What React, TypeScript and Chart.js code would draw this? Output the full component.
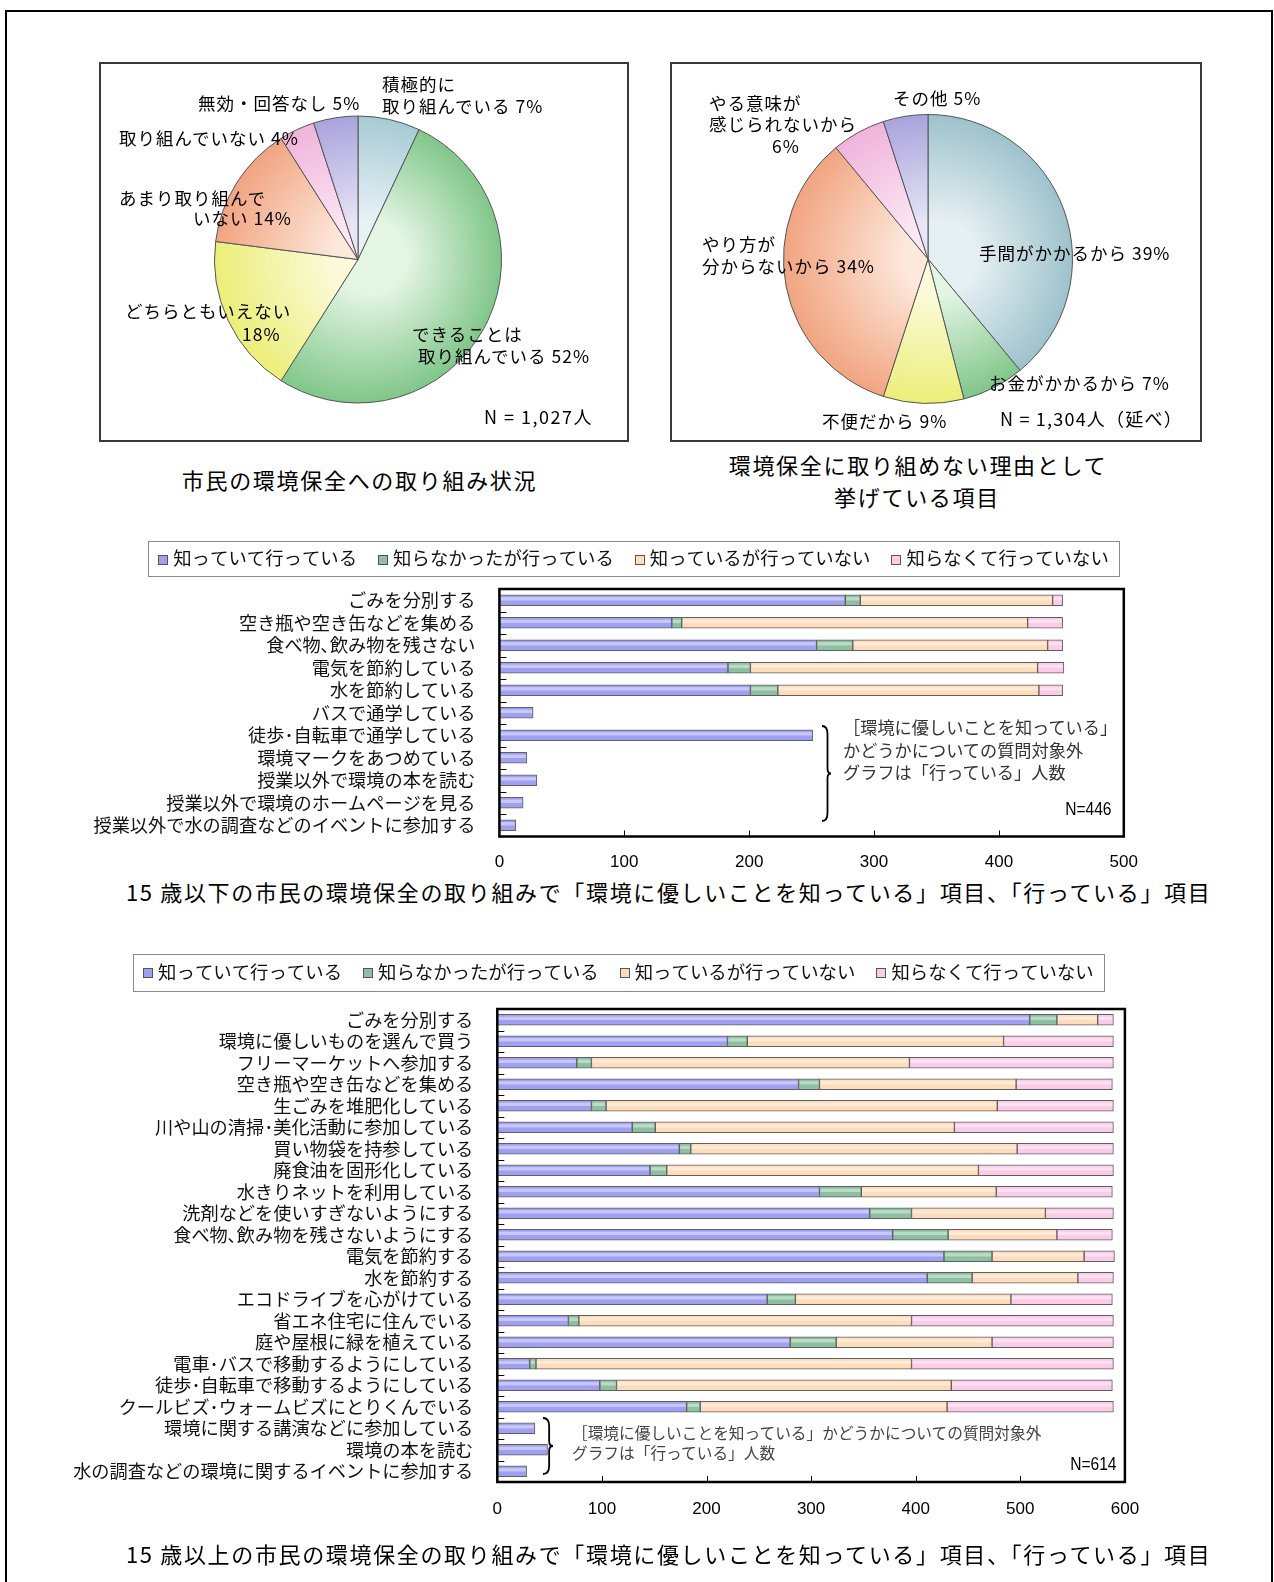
import React, { useEffect, useRef } from 'react';
import { Chart, registerables } from 'chart.js';

Chart.register(...registerables);

const JP = '"Noto Sans CJK JP", "Noto Sans JP", "Noto Sans", sans-serif';
const NUM = '"Liberation Sans", Arial, sans-serif';

// ---------------- data ----------------
const pie1Labels = [['積極的に', '取り組んでいる'], ['できることは', '取り組んでいる'], ['どちらともいえない'], ['あまり取り組んで', 'いない'], ['取り組んでいない'], ['無効・回答なし']];
const pie1Values = [7, 52, 18, 14, 4, 5];
const pie1N = 'N = 1,027人';
const pie1Caption = ['市民の環境保全への取り組み状況'];

const pie2Labels = [['手間がかかるから'], ['お金がかかるから'], ['不便だから'], ['やり方が', '分からないから'], ['やる意味が', '感じられないから'], ['その他']];
const pie2Values = [39, 7, 9, 34, 6, 5];
const pie2N = 'N = 1,304人（延べ）';
const pie2Caption = ['環境保全に取り組めない理由として', '挙げている項目'];

const seriesNames = ['知っていて行っている', '知らなかったが行っている', '知っているが行っていない', '知らなくて行っていない'];

const youthItems = ['ごみを分別する', '空き瓶や空き缶などを集める', '食べ物､飲み物を残さない', '電気を節約している', '水を節約している', 'バスで通学している', '徒歩･自転車で通学している', '環境マークをあつめている', '授業以外で環境の本を読む', '授業以外で環境のホームページを見る', '授業以外で水の調査などのイベントに参加する'];
const youthKnowDo = [277, 138, 254, 183, 201, 27, 251, 22, 30, 19, 13];
const youthUnknownDo = [12, 8, 29, 18, 22, null, null, null, null, null, null];
const youthKnowNot = [154, 277, 156, 230, 209, null, null, null, null, null, null];
const youthUnknownNot = [8, 28, 12, 21, 19, null, null, null, null, null, null];
const youthTicks = [0, 100, 200, 300, 400, 500];
const youthN = 'N=446';
const youthNote = ['［環境に優しいことを知っている」', 'かどうかについての質問対象外', 'グラフは「行っている」人数'];
const youthCaption = '15 歳以下の市民の環境保全の取り組みで「環境に優しいことを知っている」項目、「行っている」項目';

const adultItems = ['ごみを分別する', '環境に優しいものを選んで買う', 'フリーマーケットへ参加する', '空き瓶や空き缶などを集める', '生ごみを堆肥化している', '川や山の清掃･美化活動に参加している', '買い物袋を持参している', '廃食油を固形化している', '水きりネットを利用している', '洗剤などを使いすぎないようにする', '食べ物､飲み物を残さないようにする', '電気を節約する', '水を節約する', 'エコドライブを心がけている', '省エネ住宅に住んでいる', '庭や屋根に緑を植えている', '電車･バスで移動するようにしている', '徒歩･自転車で移動するようにしている', 'クールビズ･ウォームビズにとりくんでいる', '環境に関する講演などに参加している', '環境の本を読む', '水の調査などの環境に関するイベントに参加する'];
const adultKnowDo = [509, 220, 76, 288, 90, 129, 174, 146, 308, 356, 378, 427, 411, 258, 68, 280, 31, 98, 181, 36, 48, 28];
const adultUnknownDo = [26, 19, 14, 20, 14, 22, 11, 16, 40, 40, 53, 46, 43, 27, 10, 44, 6, 16, 13, null, null, null];
const adultKnowNot = [39, 245, 304, 188, 374, 286, 312, 298, 129, 128, 104, 88, 101, 206, 318, 149, 359, 320, 236, null, null, null];
const adultUnknownNot = [15, 105, 195, 92, 111, 152, 92, 129, 111, 65, 53, 29, 34, 97, 193, 116, 193, 154, 159, null, null, null];
const adultTicks = [0, 100, 200, 300, 400, 500, 600];
const adultN = 'N=614';
const adultNote = ['［環境に優しいことを知っている」かどうかについての質問対象外', 'グラフは「行っている」人数'];
const adultCaption = '15 歳以上の市民の環境保全の取り組みで「環境に優しいことを知っている」項目、「行っている」項目';

// ---------------- styles ----------------
const barFill = ['#a0a0f2', '#8cc0a0', '#fddcbb', '#fbcbe7'];
const pie1Rim = ['#a6cbd5', '#80c689', '#ecee78', '#f1a480', '#f0b3dc', '#a9a3dc'];
const pie1Inner = ['#e8f2f5', '#e4f5e4', '#fbfbdc', '#fde8dc', '#fbe8f4', '#e8e6f6'];
const pie2Rim = ['#9dc2cc', '#80c689', '#ecee78', '#f1a480', '#f0b3dc', '#a9a3dc'];
const pie2Inner = ['#e6eff2', '#e4f5e4', '#fbfbdc', '#fde8dc', '#fbe8f4', '#e8e6f6'];

const pie1LabelPos = [
  [[382, 83], [382, 105]],
  [[412, 333], [418, 355]],
  [[125, 310], [242, 333]],
  [[119, 197], [193, 217]],
  [[119, 137]],
  [[198, 102]],
];
const pie2LabelPos = [
  [[979, 252]],
  [[989, 382]],
  [[822, 420]],
  [[702, 243], [702, 265]],
  [[709, 102], [709, 123], [772, 145]],
  [[893, 97]],
];

type TxtProps = { x: number; y: number; children: any; size?: number; ls?: number; align?: string; color?: string; family?: string; sx?: number };
function Txt({ x, y, children, size = 17.5, ls = 1, align = 'left', color = '#111', family = JP, sx = 1 }: TxtProps) {
  const lh = Math.round(size * 1.3);
  const style: any = {
    position: 'absolute', top: y - lh / 2, lineHeight: lh + 'px', height: lh, fontSize: size,
    letterSpacing: ls, whiteSpace: 'nowrap', color, fontFamily: family,
  };
  if (align === 'left') { style.left = x; style.transformOrigin = 'left center'; }
  else if (align === 'right') { style.right = 1274 - x; style.transformOrigin = 'right center'; }
  else { style.left = x - 500; style.width = 1000; style.textAlign = 'center'; }
  if (sx !== 1) style.transform = `scaleX(${sx})`;
  return <div style={style}>{children}</div>;
}

function Brace({ x, y, w, h }: { x: number; y: number; w: number; h: number }) {
  const m = h / 2;
  const v = w * 0.65;
  const d = `M 1 1 Q ${v} 1 ${v} 9 L ${v} ${m - 5} Q ${v} ${m} ${w} ${m} Q ${v} ${m} ${v} ${m + 5} L ${v} ${h - 9} Q ${v} ${h - 1} 1 ${h - 1}`;
  return (
    <svg style={{ position: 'absolute', left: x, top: y }} width={w + 2} height={h}>
      <path d={d} fill="none" stroke="#000" strokeWidth={1.8} />
    </svg>
  );
}

function pieLines(labels: string[][], values: number[], pos: number[][][]) {
  const out: { t: string; x: number; y: number }[] = [];
  labels.forEach((lab, i) => {
    const lines = lab.slice();
    const pct = values[i] + '%';
    if (pos[i].length > lines.length) lines.push(pct);
    else lines[lines.length - 1] = lines[lines.length - 1] + ' ' + pct;
    lines.forEach((t, j) => out.push({ t, x: pos[i][j][0], y: pos[i][j][1] }));
  });
  return out;
}

type PieProps = { labels: string[][]; values: number[]; rims: string[]; inners: string[]; left: number; top: number; width: number; height: number; padding: any };
function PieCanvas(p: PieProps) {
  const ref = useRef<HTMLCanvasElement>(null);
  useEffect(() => {
    const chart = new Chart(ref.current as HTMLCanvasElement, {
      type: 'pie',
      data: {
        labels: p.labels.map((l) => l.join('')),
        datasets: [{
          data: p.values,
          backgroundColor: (c: any) => {
            const a = c.chart.chartArea;
            const i = c.dataIndex;
            if (!a) return p.rims[i];
            const cx = (a.left + a.right) / 2;
            const cy = (a.top + a.bottom) / 2;
            const r = Math.min(a.width, a.height) / 2;
            const g = c.chart.ctx.createRadialGradient(cx + r * 0.12, cy - r * 0.02, 0, cx, cy, r);
            g.addColorStop(0, p.inners[i]);
            g.addColorStop(0.25, p.inners[i]);
            g.addColorStop(1, p.rims[i]);
            return g;
          },
          borderColor: '#555',
          borderWidth: 1,
        }],
      },
      options: {
        responsive: false,
        animation: false,
        events: [],
        layout: { padding: p.padding },
        plugins: { legend: { display: false }, tooltip: { enabled: false } },
      },
    } as any);
    return () => chart.destroy();
  }, []);
  return <canvas ref={ref} width={p.width} height={p.height} style={{ position: 'absolute', left: p.left, top: p.top, width: p.width, height: p.height }} />;
}

type BarProps = {
  items: string[]; series: (number | null)[][]; ticks: number[];
  left: number; top: number; width: number; height: number;
  padTop: number; padRight: number; yW: number; xH: number; xPad: number;
  legend: { cx: number; cy: number; top: number; height: number };
};
function BarCanvas(p: BarProps) {
  const ref = useRef<HTMLCanvasElement>(null);
  useEffect(() => {
    const framePlugin = {
      id: 'frameTicks',
      afterDraw(chart: any) {
        const { ctx, chartArea: a, scales } = chart;
        const xs = scales.x;
        const ys = scales.y;
        ctx.save();
        ctx.strokeStyle = '#000';
        ctx.lineWidth = 1;
        ctx.beginPath();
        xs.ticks.forEach((t: any) => {
          const px = Math.round(xs.getPixelForValue(t.value)) + 0.5;
          ctx.moveTo(px, a.bottom);
          ctx.lineTo(px, a.bottom - 6);
        });
        const n = chart.data.labels.length;
        for (let i = 1; i < n; i++) {
          const py = Math.round(ys.getPixelForValue(i - 0.5)) + 0.5;
          ctx.moveTo(a.left, py);
          ctx.lineTo(a.left + 7, py);
        }
        ctx.stroke();
        ctx.lineWidth = 2.5;
        ctx.strokeRect(a.left, a.top, a.right - a.left, a.bottom - a.top);
        ctx.restore();
      },
    };
    const shinePlugin = {
      id: 'shine',
      afterDatasetsDraw(chart: any) {
        const { ctx } = chart;
        ctx.save();
        chart.data.datasets.forEach((ds: any, di: number) => {
          const meta = chart.getDatasetMeta(di);
          meta.data.forEach((el: any, idx: number) => {
            if (ds.data[idx] == null) return;
            const l = Math.min(el.base, el.x);
            const r = Math.max(el.base, el.x);
            if (r - l < 3) return;
            const t = el.y - el.height / 2;
            ctx.fillStyle = 'rgba(255,255,255,0.42)';
            ctx.fillRect(l + 1, t + el.height * 0.22, r - l - 2, el.height * 0.3);
          });
        });
        ctx.restore();
      },
    };
    const legendPlugin = {
      id: 'boxLegend',
      afterDraw(chart: any) {
        const { ctx } = chart;
        const L = p.legend;
        ctx.save();
        ctx.font = `18.4px ${JP}`;
        const marker = 10;
        const mgap = 5;
        const igap = 21;
        const items = chart.data.datasets.map((d: any) => ({ text: d.label, color: d.backgroundColor }));
        const widths = items.map((it: any) => marker + mgap + ctx.measureText(it.text).width);
        const total = widths.reduce((s: number, w: number) => s + w, 0) + igap * (items.length - 1);
        let x = L.cx - total / 2;
        ctx.strokeStyle = '#8a8a8a';
        ctx.lineWidth = 1;
        ctx.strokeRect(Math.round(x - 10) + 0.5, Math.round(L.top) + 0.5, Math.round(total + 20), Math.round(L.height));
        ctx.textBaseline = 'middle';
        ctx.textAlign = 'left';
        items.forEach((it: any, i: number) => {
          const my = Math.round(L.cy - marker / 2 + 1);
          ctx.fillStyle = it.color;
          ctx.fillRect(Math.round(x), my, marker, marker);
          ctx.strokeStyle = '#555';
          ctx.strokeRect(Math.round(x) + 0.5, my + 0.5, marker - 1, marker - 1);
          ctx.fillStyle = '#111';
          ctx.fillText(it.text, x + marker + mgap, L.cy);
          x += widths[i] + igap;
        });
        ctx.restore();
      },
    };
    const ticks = p.ticks;
    const chart = new Chart(ref.current as HTMLCanvasElement, {
      type: 'bar',
      data: {
        labels: p.items,
        datasets: p.series.map((data, i) => ({
          label: seriesNames[i],
          data,
          backgroundColor: barFill[i],
          borderColor: '#5f5f5f',
          borderWidth: 1,
          borderSkipped: false,
          barThickness: 11,
        })),
      },
      options: {
        indexAxis: 'y',
        responsive: false,
        animation: false,
        events: [],
        layout: { padding: { top: p.padTop, right: p.padRight, left: 0, bottom: 0 } },
        plugins: { legend: { display: false }, tooltip: { enabled: false } },
        scales: {
          x: {
            type: 'linear',
            stacked: true,
            min: ticks[0],
            max: ticks[ticks.length - 1],
            afterBuildTicks: (s: any) => { s.ticks = ticks.map((v) => ({ value: v })); },
            ticks: { font: { family: NUM, size: 17 }, color: '#000', padding: p.xPad, maxRotation: 0 },
            grid: { display: false },
            border: { display: false },
            afterFit: (s: any) => { s.height = p.xH; s.paddingLeft = 0; s.paddingRight = 0; },
          },
          y: {
            stacked: true,
            ticks: { autoSkip: false, font: { family: JP, size: 18.2 }, color: '#111', padding: 16 },
            grid: { display: false },
            border: { display: false },
            afterFit: (s: any) => { s.width = p.yW; s.paddingTop = 0; s.paddingBottom = 0; },
          },
        },
      },
      plugins: [shinePlugin, framePlugin, legendPlugin],
    } as any);
    return () => chart.destroy();
  }, []);
  return <canvas ref={ref} width={p.width} height={p.height} style={{ position: 'absolute', left: p.left, top: p.top, width: p.width, height: p.height }} />;
}

export default function App() {
  const p1 = pieLines(pie1Labels, pie1Values, pie1LabelPos);
  const p2 = pieLines(pie2Labels, pie2Values, pie2LabelPos);
  const boxStyle = (l: number, t: number, w: number, h: number): any => ({
    position: 'absolute', left: l, top: t, width: w, height: h, border: '2px solid #3a3a3a', boxSizing: 'border-box',
  });
  return (
    <div style={{ position: 'absolute', left: 0, top: 0, width: 1274, height: 1582, overflow: 'hidden', background: '#fff', fontFamily: JP }}>
      <div style={{ position: 'absolute', left: 5, top: 10, width: 1268, height: 1620, border: '2px solid #000', borderBottom: 'none', boxSizing: 'border-box' }} />

      {/* pie boxes */}
      <div style={boxStyle(99, 62, 530, 380)} />
      <div style={boxStyle(670, 62, 532, 380)} />

      <PieCanvas labels={pie1Labels} values={pie1Values} rims={pie1Rim} inners={pie1Inner}
        left={101} top={64} width={526} height={376} padding={{ left: 113, right: 125, top: 51.5, bottom: 36.5 }} />
      <PieCanvas labels={pie2Labels} values={pie2Values} rims={pie2Rim} inners={pie2Inner}
        left={672} top={64} width={528} height={376} padding={{ left: 111, right: 127, top: 50, bottom: 36 }} />

      {p1.map((l, i) => <Txt key={'a' + i} x={l.x} y={l.y} color="#000">{l.t}</Txt>)}
      {p2.map((l, i) => <Txt key={'b' + i} x={l.x} y={l.y} color="#000">{l.t}</Txt>)}
      <Txt x={484} y={416} size={18} ls={1.5} color="#000">{pie1N}</Txt>
      <Txt x={1000} y={418} size={18} ls={1.2} color="#000">{pie2N}</Txt>

      <Txt x={359.5} y={479} size={22} ls={1.7} align="center" color="#000">{pie1Caption[0]}</Txt>
      <Txt x={918} y={464} size={22} ls={1.7} align="center" color="#000">{pie2Caption[0]}</Txt>
      <Txt x={917} y={496} size={22} ls={1.7} align="center" color="#000">{pie2Caption[1]}</Txt>

      {/* youth bar chart */}
      <BarCanvas items={youthItems} series={[youthKnowDo, youthUnknownDo, youthKnowNot, youthUnknownNot]} ticks={youthTicks}
        left={60} top={535} width={1090} height={340} padTop={54} padRight={26.2} yW={439.4} xH={38.5} xPad={8}
        legend={{ cx: 573.5, cy: 23.5, top: 6, height: 35 }} />
      <Brace x={821} y={725} w={10} h={97} />
      {youthNote.map((t, i) => <Txt key={'yn' + i} x={843} y={727 + i * 22.5} size={17.2} ls={0} color="#333">{t}</Txt>)}
      <Txt x={1112} y={808} size={19} ls={0} align="right" family={NUM} color="#000" sx={0.82}>{youthN}</Txt>
      <Txt x={126} y={891} size={22} ls={1.65} color="#000">{youthCaption}</Txt>

      {/* adult bar chart */}
      <BarCanvas items={adultItems} series={[adultKnowDo, adultUnknownDo, adultKnowNot, adultUnknownNot]} ticks={adultTicks}
        left={60} top={940} width={1090} height={600} padTop={69} padRight={25.1} yW={437.3} xH={58} xPad={9}
        legend={{ cx: 558.4, cy: 32, top: 14, height: 37 }} />
      <Brace x={542} y={1417} w={11} h={58} />
      {adultNote.map((t, i) => <Txt key={'an' + i} x={572} y={1433 + i * 20} size={15.7} ls={0} color="#444">{t}</Txt>)}
      <Txt x={1117} y={1463} size={19} ls={0} align="right" family={NUM} color="#000" sx={0.82}>{adultN}</Txt>
      <Txt x={126} y={1553} size={22} ls={1.65} color="#000">{adultCaption}</Txt>
    </div>
  );
}
